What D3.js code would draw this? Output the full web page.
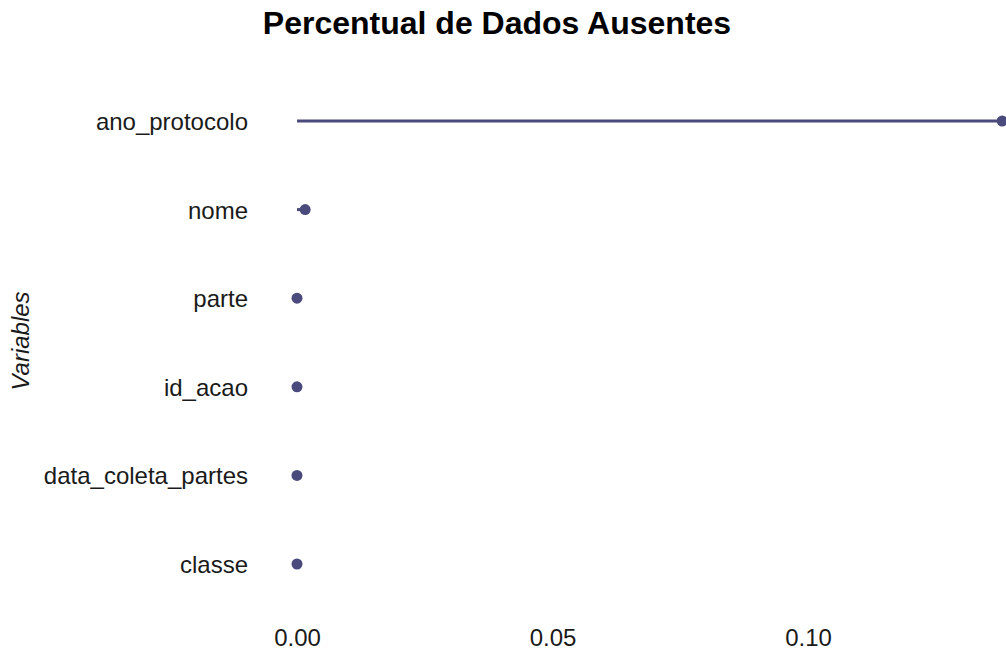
<!DOCTYPE html>
<html><head><meta charset="utf-8">
<script src="https://cdn.jsdelivr.net/npm/d3@7"></script>
<style>body{margin:0;background:#fff}svg{display:block}text{font-family:"Liberation Sans",Arial,sans-serif}</style>
</head><body><svg id="c" width="1006" height="652"></svg>
<script>
const variables = ["ano_protocolo","nome","parte","id_acao","data_coleta_partes","classe"];
const pctMissing = [0.138, 0.0016, 0, 0, 0, 0];
const xTicks = [0, 0.05, 0.10];
const color = "#4a4a7c";

const svg = d3.select("#c");
const x = d3.scaleLinear().domain([0, 0.10]).range([297, 808]);
const y = d3.scalePoint().domain(variables).range([121, 564]);

svg.append("text").attr("x", 497).attr("y", 34).attr("text-anchor","middle")
  .attr("font-size", 32).attr("font-weight","bold").attr("fill","#000")
  .text("Percentual de Dados Ausentes");

svg.append("text").attr("transform","translate(29,341) rotate(-90)")
  .attr("text-anchor","middle").attr("font-size",24).attr("font-style","italic").attr("fill","#1a1a1a")
  .text("Variables");

const data = variables.map((v,i)=>({v, p:pctMissing[i]}));

svg.append("g").selectAll("line").data(data).join("line")
  .attr("x1", x(0)).attr("x2", d=>x(d.p))
  .attr("y1", d=>y(d.v)).attr("y2", d=>y(d.v))
  .attr("stroke", color).attr("stroke-width", 3);

svg.append("g").selectAll("circle").data(data).join("circle")
  .attr("cx", d=>x(d.p)).attr("cy", d=>y(d.v)).attr("r", 5.5).attr("fill", color);

const yAxis = svg.append("g").attr("transform","translate(284,0)")
  .call(d3.axisLeft(y).tickSize(0).tickPadding(36));
yAxis.select(".domain").remove();
yAxis.selectAll("text").attr("font-size",24).attr("fill","#1a1a1a").attr("dy","0.35em")
  .attr("font-family","'Liberation Sans',Arial,sans-serif");

const xAxis = svg.append("g").attr("transform","translate(0,629)")
  .call(d3.axisBottom(x).tickValues(xTicks).tickFormat(d3.format(".2f")).tickSize(0).tickPadding(0));
xAxis.select(".domain").remove();
xAxis.selectAll("text").attr("font-size",24).attr("fill","#1a1a1a")
  .attr("font-family","'Liberation Sans',Arial,sans-serif");
</script></body></html>
